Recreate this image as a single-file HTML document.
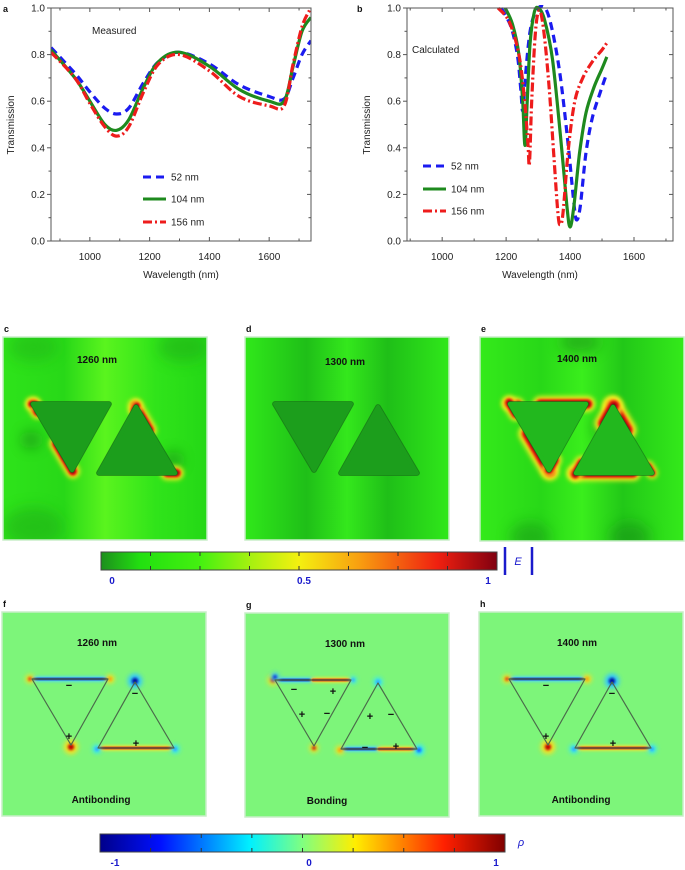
<!DOCTYPE html>
<html><head><meta charset="utf-8"><style>
html,body{margin:0;padding:0;background:#fff;}
svg{display:block;font-family:"Liberation Sans",Arial,sans-serif;}
</style></head><body>
<svg id="fig" width="685" height="870" viewBox="0 0 685 870" xmlns="http://www.w3.org/2000/svg">
<defs>
<filter id="b1" filterUnits="userSpaceOnUse" x="-100" y="-100" width="500" height="500"><feGaussianBlur stdDeviation="1.2"/></filter>
<filter id="b2" filterUnits="userSpaceOnUse" x="-100" y="-100" width="500" height="500"><feGaussianBlur stdDeviation="2.5"/></filter>
<filter id="b6" filterUnits="userSpaceOnUse" x="-100" y="-100" width="500" height="500"><feGaussianBlur stdDeviation="7"/></filter>
<linearGradient id="gE" x1="0" x2="1"><stop offset="0" stop-color="#1d8f1d"/><stop offset="0.1" stop-color="#22e010"/><stop offset="0.25" stop-color="#44f010"/><stop offset="0.38" stop-color="#a8f010"/><stop offset="0.5" stop-color="#f4f010"/><stop offset="0.65" stop-color="#f8a010"/><stop offset="0.85" stop-color="#f02010"/><stop offset="1" stop-color="#800010"/></linearGradient>
<linearGradient id="gR" x1="0" x2="1"><stop offset="0" stop-color="#00008a"/><stop offset="0.15" stop-color="#0010ff"/><stop offset="0.37" stop-color="#00f0ff"/><stop offset="0.5" stop-color="#80ff80"/><stop offset="0.63" stop-color="#ffee00"/><stop offset="0.85" stop-color="#ff2000"/><stop offset="1" stop-color="#800000"/></linearGradient>
<linearGradient id="bgC" x1="0" x2="1"><stop offset="0" stop-color="#2ee41a"/><stop offset="0.3" stop-color="#28d818"/><stop offset="0.5" stop-color="#5af41e"/><stop offset="0.75" stop-color="#30e41a"/><stop offset="1" stop-color="#24d816"/></linearGradient>
<linearGradient id="bgD" x1="0" x2="1"><stop offset="0" stop-color="#30e81a"/><stop offset="0.3" stop-color="#1fbf18"/><stop offset="0.5" stop-color="#34e81c"/><stop offset="0.7" stop-color="#1fbf18"/><stop offset="1" stop-color="#30e81a"/></linearGradient>
<linearGradient id="bgE" x1="0" x2="1"><stop offset="0" stop-color="#34ea1a"/><stop offset="0.3" stop-color="#28d818"/><stop offset="0.5" stop-color="#3aee1c"/><stop offset="0.7" stop-color="#22c818"/><stop offset="1" stop-color="#34ea1a"/></linearGradient>
</defs>
<g id="charts"></g>
<g id="maps"></g>
</svg>
<script>
// ---------- Chart data ----------
const measWl52 = [870,950,1000,1050,1090,1130,1180,1230,1300,1400,1500,1600,1650,1680,1710,1740];
const measT52  = [0.83,0.72,0.64,0.57,0.545,0.57,0.68,0.77,0.81,0.76,0.67,0.62,0.61,0.70,0.80,0.86];
const measWl104 = [870,950,1000,1050,1090,1130,1180,1230,1300,1400,1500,1600,1650,1680,1710,1740];
const measT104  = [0.82,0.70,0.60,0.50,0.475,0.52,0.66,0.77,0.81,0.75,0.65,0.60,0.60,0.75,0.90,0.96];
const measWl156 = [870,950,1000,1050,1090,1130,1180,1230,1300,1400,1500,1600,1650,1680,1710,1735];
const measT156  = [0.81,0.70,0.59,0.49,0.45,0.49,0.64,0.76,0.80,0.73,0.62,0.58,0.58,0.76,0.92,0.99];
const calcWl52 = [1185,1215,1235,1246,1252,1260,1275,1295,1322,1345,1370,1395,1413,1421,1432,1450,1470,1495,1515];
const calcT52  = [1.0,0.92,0.80,0.65,0.56,0.70,0.90,0.99,1.0,0.90,0.70,0.40,0.15,0.09,0.15,0.38,0.53,0.64,0.72];
const calcWl104 = [1197,1220,1240,1252,1259,1266,1275,1288,1301,1320,1345,1370,1390,1400,1412,1430,1450,1475,1500,1515];
const calcT104  = [1.0,0.93,0.80,0.60,0.41,0.60,0.85,0.98,1.0,0.95,0.78,0.45,0.15,0.06,0.15,0.38,0.55,0.66,0.74,0.79];
const calcWl156 = [1175,1210,1240,1258,1268,1273,1280,1292,1304,1318,1335,1350,1362,1369,1378,1395,1415,1440,1470,1500,1515];
const calcT156  = [1.0,0.94,0.80,0.60,0.42,0.33,0.60,0.90,0.99,0.90,0.65,0.35,0.12,0.07,0.12,0.40,0.60,0.70,0.77,0.82,0.85];
const xTickLabels = [1000,1200,1400,1600];
const yTickLabels = [0.0,0.2,0.4,0.6,0.8,1.0];
const legendLabels = ["52 nm","104 nm","156 nm"];

const NS="http://www.w3.org/2000/svg";
function mk(tag,attrs,parent){const e=document.createElementNS(NS,tag);for(const k in attrs)e.setAttribute(k,attrs[k]);parent.appendChild(e);return e;}
const charts=document.getElementById('charts');

function smooth(pts){
  let d="M"+pts[0][0].toFixed(1)+","+pts[0][1].toFixed(1);
  for(let i=0;i<pts.length-1;i++){
    const p0=pts[Math.max(0,i-1)],p1=pts[i],p2=pts[i+1],p3=pts[Math.min(pts.length-1,i+2)];
    const c1=[p1[0]+(p2[0]-p0[0])/6,p1[1]+(p2[1]-p0[1])/6],c2=[p2[0]-(p3[0]-p1[0])/6,p2[1]-(p3[1]-p1[1])/6];
    d+=" C"+c1[0].toFixed(1)+","+c1[1].toFixed(1)+" "+c2[0].toFixed(1)+","+c2[1].toFixed(1)+" "+p2[0].toFixed(1)+","+p2[1].toFixed(1);
  }
  return d;
}
const styles=[{c:"#1b1bf0",dash:"8,5"},{c:"#1e8a1e",dash:""},{c:"#ee1c1c",dash:"9,3,2,3"}];

function drawChart(id,x0,x1,wMin,wMax,series,legY,legX,note,noteX,noteY,letter,letterX){
  const y0=8,y1=241;
  const sx=w=>x0+(w-wMin)/(wMax-wMin)*(x1-x0);
  const sy=v=>y1-v*(y1-y0);
  const g=mk('g',{},charts);
  
  
  const clip=mk('clipPath',{id:'clip-'+id},g);
  mk('rect',{x:x0,y:y0-3,width:x1-x0,height:y1-y0+3},clip);
  series.forEach((s,i)=>{
    const pts=s.wl.map((w,j)=>[sx(w),sy(Math.min(1,s.t[j]))]);
    const p=mk('path',{d:smooth(pts),fill:'none',stroke:styles[i].c,'stroke-width':3.2,'clip-path':'url(#clip-'+id+')'},g);
    if(styles[i].dash)p.setAttribute('stroke-dasharray',styles[i].dash);
    
    
  });
  const fr=mk('rect',{x:x0,y:y0,width:x1-x0,height:y1-y0,fill:'none',stroke:'#555','stroke-width':1},g);
  
  
  for(let k=0;k<=10;k++){
    const yy=sy(k/10),len=k%2===0?4:2.5;
    mk('line',{x1:x0-len,x2:x0,y1:yy,y2:yy,stroke:'#555'},g);
    mk('line',{x1:x1-len,x2:x1,y1:yy,y2:yy,stroke:'#555'},g);
  }
  yTickLabels.forEach(v=>{
    const t=mk('text',{x:x0-6,y:sy(v)+3.5,'font-size':10,'text-anchor':'end',fill:'#222'},g);
    t.textContent=v.toFixed(1);
    
    
  });
  for(let w=Math.ceil(wMin/100)*100;w<wMax;w+=100){
    mk('line',{x1:sx(w),x2:sx(w),y1:y1,y2:y1-(w%200===0?4:2.5),stroke:'#555'},g);
    mk('line',{x1:sx(w),x2:sx(w),y1:y0,y2:y0+(w%200===0?4:2.5),stroke:'#555'},g);
  }
  xTickLabels.forEach(v=>{
    const t=mk('text',{x:sx(v),y:y1+19,'font-size':10,'text-anchor':'middle',fill:'#222'},g);
    t.textContent=v;
    
    
  });
  const yt=mk('text',{x:0,y:0,'font-size':10,'text-anchor':'middle',fill:'#222',transform:'translate('+(x0-37)+',125) rotate(-90)'},g);
  yt.textContent='Transmission';
  
  
  const xt=mk('text',{x:(x0+x1)/2,y:y1+23+14,'font-size':10,'text-anchor':'middle',fill:'#222'},g);
  xt.textContent='Wavelength (nm)';
  
  
  const nt=mk('text',{x:noteX,y:noteY,'font-size':10,fill:'#222'},g);
  nt.textContent=note;
  
  
  const lt=mk('text',{x:letterX,y:12,'font-size':9,'font-weight':'bold',fill:'#111'},g);
  lt.textContent=letter;
  
  
  legendLabels.forEach((lab,i)=>{
    const ly=legY[i];
    const ln=mk('line',{x1:legX,x2:legX+23,y1:ly,y2:ly,stroke:styles[i].c,'stroke-width':3},g);
    if(styles[i].dash)ln.setAttribute('stroke-dasharray',styles[i].dash);
    
    
    const t=mk('text',{x:legX+28,y:ly+3.5,'font-size':10,fill:'#222'},g);
    t.textContent=lab;
    
    
  });
}
drawChart('chart-measured',51,311,870,1740,
  [{wl:measWl52,t:measT52},{wl:measWl104,t:measT104},{wl:measWl156,t:measT156}],
  [177,199,222],143,'Measured',92,34,'a',3);
drawChart('chart-calculated',407,673,890,1722,
  [{wl:calcWl52,t:calcT52},{wl:calcWl104,t:calcT104},{wl:calcWl156,t:calcT156}],
  [166,189,211],423,'Calculated',412,53,'b',357);

// ---------- Field maps ----------
const maps=document.getElementById('maps');
const L=[[30,67],[106,67],[69,133]];
const R=[[133,70],[96,136],[172,136]];
function P(a){return a.map(p=>p.join(',')).join(' ');}
function lerp(a,b,t){return [a[0]+(b[0]-a[0])*t,a[1]+(b[1]-a[1])*t];}
function seg(g,tri,i,j,t0,t1,col,w,f){
  const a=lerp(tri[i],tri[j],t0),b=lerp(tri[i],tri[j],t1);
  const l=mk('line',{x1:a[0],y1:a[1],x2:b[0],y2:b[1],stroke:col,'stroke-width':w,'stroke-linecap':'round'},g);
  if(f)l.setAttribute('filter','url(#'+f+')');
}
function hot(g,tri,i,j,t0,t1,s){
  seg(g,tri,i,j,t0,t1,'#f8f020',14*s,'b2');
  seg(g,tri,i,j,t0,t1,'#f02010',9*s,'b1');
  seg(g,tri,i,j,t0,t1,'#900010',5*s,'b1');
}
function panel(name,px,py,h,bg,letter,label,lx,ly,bottom){
  const g=mk('g',{transform:'translate('+px+','+py+')'},maps);
  
  
  const cl=mk('clipPath',{id:'c-'+name},g);
  mk('rect',{x:0,y:0,width:204,height:h},cl);
  const inner=mk('g',{'clip-path':'url(#c-'+name+')'},g);
  const r=mk('rect',{x:0,y:0,width:204,height:h,fill:bg},inner);
  
  
  mk('rect',{x:0,y:0,width:204,height:h,fill:'none',stroke:'#c8eec8','stroke-width':1.5},g);
  const lt=mk('text',{x:1,y:-5,'font-size':9,'font-weight':'bold',fill:'#111'},g);
  lt.textContent=letter;
  
  
  const t=mk('text',{x:lx,y:ly,'font-size':10,'font-weight':'bold','text-anchor':'middle',fill:'#111'},g);
  t.textContent=label;
  
  
  if(bottom){
    const b=mk('text',{x:bottom[1],y:191,'font-size':10,'font-weight':'bold','text-anchor':'middle',fill:'#111'},g);
    b.textContent=bottom[0];
    
    
  }
  return inner;
}
function blob(g,x,y,rx,ry,c,o){mk('ellipse',{cx:x,cy:y,rx:rx,ry:ry,fill:c,opacity:o,filter:'url(#b6)'},g);}
function tris(g,fill,stroke,name){
  const a=mk('polygon',{points:P(L),fill:fill,stroke:fill,'stroke-width':5,'stroke-linejoin':'round'},g);
  
  
  const b=mk('polygon',{points:P(R),fill:fill,stroke:fill,'stroke-width':5,'stroke-linejoin':'round'},g);
  
  
  mk('polygon',{points:P(L),fill:'none',stroke:stroke,'stroke-width':5.8,'stroke-linejoin':'round',opacity:0.5},g);
  mk('polygon',{points:P(R),fill:'none',stroke:stroke,'stroke-width':5.8,'stroke-linejoin':'round',opacity:0.5},g);
  mk('polygon',{points:P(L),fill:fill,stroke:fill,'stroke-width':4,'stroke-linejoin':'round'},g);
  mk('polygon',{points:P(R),fill:fill,stroke:fill,'stroke-width':4,'stroke-linejoin':'round'},g);
}
// c
let g=panel('field-map-1260',3,337,203,'url(#bgC)','c','1260 nm',94,26);
blob(g,28,103,8,8,'#127a12',0.7);blob(g,170,123,8,8,'#127a12',0.7);
blob(g,30,190,30,20,'#1aa818',0.5);blob(g,180,10,25,15,'#1aa818',0.5);blob(g,30,10,25,15,'#1aa818',0.4);
hot(g,L,0,2,0,0.12,1);hot(g,L,0,2,0.6,1.02,1);hot(g,L,0,1,-0.02,0.03,0.8);
hot(g,R,0,2,-0.02,0.35,1);hot(g,R,2,1,-0.02,0.1,1);hot(g,R,0,1,-0.02,0.05,0.8);
tris(g,'#1c9e1c','#145a14','field-map-1260');
// d
g=panel('field-map-1300',245,337,203,'url(#bgD)','d','1300 nm',100,28);
tris(g,'#1c9e1c','#145a14','field-map-1300');
// e
g=panel('field-map-1400',480,337,204,'url(#bgE)','e','1400 nm',97,25);
blob(g,100,5,20,12,'#129012',0.6);blob(g,150,200,20,15,'#129012',0.6);blob(g,50,200,20,15,'#129012',0.5);
blob(g,120,90,6,10,'#127a12',0.6);
hot(g,L,0,1,0.4,1.02,1.1);hot(g,L,0,1,-0.02,0.1,0.9);hot(g,L,0,2,-0.02,0.15,1);hot(g,L,0,2,0.45,1.02,1.3);hot(g,L,1,2,0.85,1,1);
hot(g,R,0,2,-0.02,0.35,1.4);hot(g,R,0,1,-0.02,0.25,1.3);hot(g,R,1,2,-0.02,0.75,1.1);hot(g,R,0,1,0.85,1.02,1);hot(g,R,2,0,0,0.1,0.8);
tris(g,'#22b81e','#145a14','field-map-1400');

function colorbar(name,x,y,w,h,grad,labels,lpos,ly,nt){
  const g=mk('g',{},maps);
  
  
  mk('rect',{x:x,y:y,width:w,height:h,fill:grad,stroke:'#444','stroke-width':1},g);
  for(let i=1;i<nt;i++){mk('line',{x1:x+w*i/nt,x2:x+w*i/nt,y1:y,y2:y+4,stroke:'#333'},g);mk('line',{x1:x+w*i/nt,x2:x+w*i/nt,y1:y+h,y2:y+h-4,stroke:'#333'},g);}
  labels.forEach((l,i)=>{
    const t=mk('text',{x:lpos[i],y:ly,'font-size':10,'font-weight':'bold','text-anchor':'middle',fill:'#1a1acc'},g);
    t.textContent=l;
    
    
  });
  return g;
}
let cb=colorbar('colorbar-field',101,552,396,18,'url(#gE)',['0','0.5','1'],[112,304,488],584,8);
mk('line',{x1:505,x2:505,y1:547,y2:575,stroke:'#1a1acc','stroke-width':2.5},cb);
mk('line',{x1:532,x2:532,y1:547,y2:575,stroke:'#1a1acc','stroke-width':2.5},cb);
let et=mk('text',{x:518,y:565,'font-size':11,'font-style':'italic','text-anchor':'middle',fill:'#1a1acc'},cb);
et.textContent='E';



// charge maps
const CB='#7df57a';
function neg(g,tri,i,j,t0,t1,s){seg(g,tri,i,j,t0,t1,'#50d8f0',6*s,'b1');seg(g,tri,i,j,t0,t1,'#1030c0',3*s,'');seg(g,tri,i,j,t0,t1,'#000060',1.4*s,'');}
function pos(g,tri,i,j,t0,t1,s){seg(g,tri,i,j,t0,t1,'#f0e030',6*s,'b1');seg(g,tri,i,j,t0,t1,'#e02010',3*s,'');seg(g,tri,i,j,t0,t1,'#700000',1.4*s,'');}
function spot(g,x,y,c1,c2,r){mk('circle',{cx:x,cy:y,r:r*1.8,fill:c1,filter:'url(#b2)'},g);mk('circle',{cx:x,cy:y,r:r*0.8,fill:c2,filter:'url(#b1)'},g);}
function signs(g,arr,name){arr.forEach(s=>{const t=mk('text',{x:s[1],y:s[2]+4,'font-size':11,'font-weight':'bold','text-anchor':'middle',fill:'#111'},g);t.textContent=s[0];});}
function outline(g,name){
  const a=mk('polygon',{points:P(L),fill:'none',stroke:'#4a6a4a','stroke-width':1.2,'stroke-linejoin':'round'},g);
  
  
  const b=mk('polygon',{points:P(R),fill:'none',stroke:'#4a6a4a','stroke-width':1.2,'stroke-linejoin':'round'},g);
  
  
}
function antibond(name,px,py,letter,label,lx){
  const g=panel(name,px,py,204,CB,letter,label,lx,34,['Antibonding',lx+4]);
  neg(g,L,0,1,0.02,0.98,0.9);
  spot(g,69,135,'#f8e020','#c00000',4);spot(g,28,67,'#f8e020','#e04010',2.5);spot(g,108,67,'#f8e020','#f0a010',2.5);
  spot(g,133,69,'#30c8ff','#0010a0',4);pos(g,R,1,2,0.03,0.97,0.9);
  spot(g,95,137,'#30e8ff','#30a0ff',2.5);spot(g,173,137,'#30e8ff','#30a0ff',2.5);
  outline(g,name);
  signs(g,[['−',67,73],['+',67,124],['−',133,81],['+',134,131]],name);
}
antibond('charge-map-1260',2,612,'f','1260 nm',95);
g=panel('charge-map-1300',245,613,204,CB,'g','1300 nm',100,34,['Bonding',82]);
neg(g,L,0,1,0.02,0.5,0.9);pos(g,L,0,1,0.5,0.98,0.9);spot(g,28,67,'#f8e020','#d02010',3);spot(g,30,64,'#30c8ff','#1030d0',2.5);
spot(g,69,135,'#f8e020','#c02010',2.5);spot(g,108,67,'#30e8ff','#30a0ff',2);
neg(g,R,1,2,0.02,0.5,0.9);pos(g,R,1,2,0.5,0.98,0.9);spot(g,174,137,'#30e8ff','#1060ff',3);spot(g,95,137,'#f8e020','#f0a010',2.5);
spot(g,133,69,'#30e8ff','#30a0ff',2.5);
outline(g,'charge-map-1300');
signs(g,[['−',49,76],['+',88,78],['+',57,101],['−',82,100],['+',125,103],['−',146,101],['−',120,134],['+',151,133]],'charge-map-1300');
antibond('charge-map-1400',479,612,'h','1400 nm',98);

cb=colorbar('colorbar-charge',100,834,405,18,'url(#gR)',['-1','0','1'],[115,309,496],866,8);
et=mk('text',{x:521,y:846,'font-size':11,'font-style':'italic','text-anchor':'middle',fill:'#1a1acc'},cb);
et.textContent='ρ';


</script>
</body></html>
